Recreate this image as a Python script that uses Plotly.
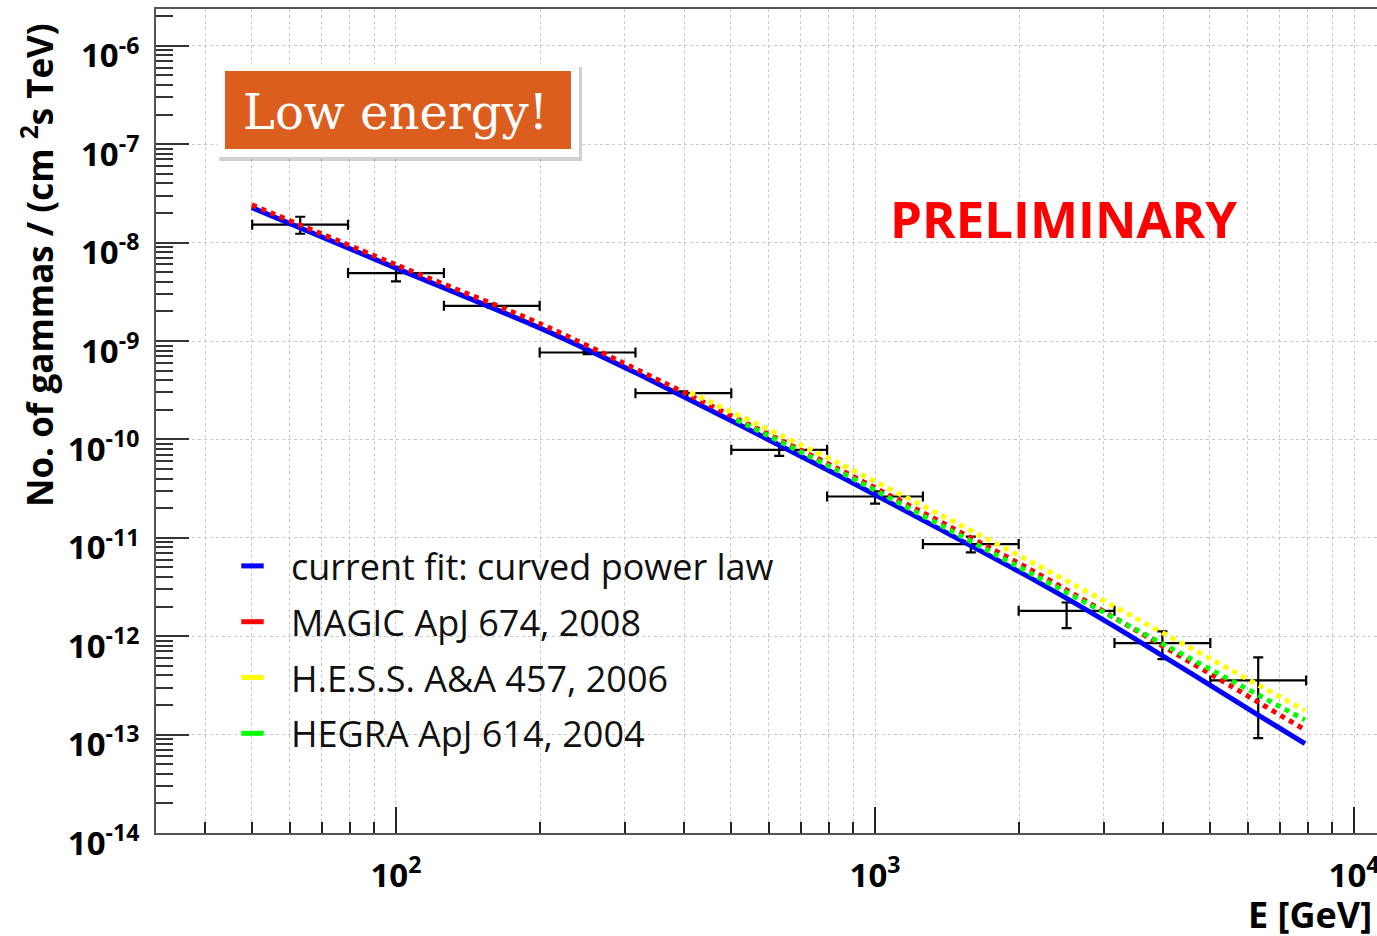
import plotly.graph_objects as go

# Measured flux points: bin centres, bin edges and flux with its 1-sigma bounds
energy = [63.1, 100.0, 158.5, 251.2, 398.1, 631.0, 1000.0, 1585.0, 2512.0, 3981.0, 6310.0]
bin_low = [50.1, 79.4, 125.9, 199.5, 316.2, 501.2, 794.3, 1259.0, 1995.0, 3162.0, 5012.0]
bin_high = [79.4, 125.9, 199.5, 316.2, 501.2, 794.3, 1259.0, 1995.0, 3162.0, 5012.0, 7943.0]
flux = [1.52e-8, 4.90e-9, 2.28e-9, 7.64e-10, 2.95e-10, 7.83e-11, 2.63e-11,
        8.63e-12, 1.81e-12, 8.51e-13, 3.55e-13]
flux_hi = [1.83e-8, 5.68e-9, 2.38e-9, 7.95e-10, 3.08e-10, 8.8e-11, 2.96e-11,
           1.03e-11, 2.20e-12, 1.12e-12, 6.08e-13]
flux_lo = [1.23e-8, 4.03e-9, 2.18e-9, 7.35e-10, 2.83e-10, 6.8e-11, 2.22e-11,
           7.1e-12, 1.21e-12, 5.85e-13, 9.2e-14]

# Spectral models, sampled along each curve
fit_E = [50, 100, 200, 323, 837, 2176, 3408, 6310, 7900]
fit_F = [2.27e-8, 5.51e-9, 1.352e-9, 4.53e-10, 4.32e-11, 3.61e-12, 1.01e-12, 1.58e-13, 8.1e-14]
magic_E = [50, 100, 200, 294, 837, 2176, 7900]
magic_F = [2.42e-8, 5.96e-9, 1.50e-9, 6.19e-10, 5.03e-11, 4.38e-12, 1.12e-13]
hess_E = [411, 837, 2176, 7900]
hess_F = [3.00e-10, 5.78e-11, 5.32e-12, 1.76e-13]
hegra_E = [514, 837, 2176, 7900]
hegra_F = [1.58e-10, 4.80e-11, 4.04e-12, 1.41e-13]

legend_names = ["current fit: curved power law", "MAGIC ApJ 674, 2008",
                "H.E.S.S. A&A 457, 2006", "HEGRA ApJ 614, 2004"]
colors = ["#0000ff", "#ff0000", "#ffff00", "#00ff00"]

x_major = [1e2, 1e3, 1e4]
x_major_text = ["10<sup>2</sup>", "10<sup>3</sup>", "10<sup>4</sup>"]
y_major = [10.0 ** k for k in range(-14, -5)]
y_major_text = ["10<sup>%d</sup>" % k for k in range(-14, -5)]

x_minor = [m * 10 ** k for k in range(1, 5) for m in range(2, 10)]
y_minor = [m * 10.0 ** k for k in range(-14, -5) for m in range(2, 10)]

W, H = 1377, 936
L, R, T, B = 156, 1377, 9, 833


def px(x):
    return (x - L) / (R - L)


def py(y):
    return (B - y) / (B - T)


fig = go.Figure()

# data points with bin-width and flux error bars
fig.add_trace(go.Scatter(
    x=energy, y=flux, mode="markers",
    marker=dict(size=2, color="black"),
    error_x=dict(type="data", symmetric=False,
                 array=[h - e for h, e in zip(bin_high, energy)],
                 arrayminus=[e - l for e, l in zip(energy, bin_low)],
                 color="black", thickness=2.2, width=5),
    error_y=dict(type="data", symmetric=False,
                 array=[h - f for h, f in zip(flux_hi, flux)],
                 arrayminus=[f - l for f, l in zip(flux, flux_lo)],
                 color="black", thickness=2.2, width=5),
    showlegend=False, hoverinfo="skip"))

curves = [(fit_E, fit_F, "solid"), (magic_E, magic_F, "5px,5px"),
          (hess_E, hess_F, "5px,5px"), (hegra_E, hegra_F, "5px,5px")]
for (xs, ys, dash), c in zip(curves, colors):
    fig.add_trace(go.Scatter(
        x=xs, y=ys, mode="lines",
        line=dict(color=c, width=5, dash=dash, shape="spline", smoothing=0.6),
        showlegend=False, hoverinfo="skip"))

# legend entries
for i, (name, c) in enumerate(zip(legend_names, colors)):
    fig.add_trace(go.Scatter(
        x=[None], y=[None], mode="markers", name=name, legendgroup="g%d" % i,
        marker=dict(symbol="line-ew", size=16, color=c, line=dict(color=c, width=6))))

grid = dict(gridcolor="#c8c8c8", griddash="dot", gridwidth=1)
tickfont = dict(family="Open Sans", size=33, color="black", weight="bold")

fig.update_layout(
    width=W, height=H,
    margin=dict(l=L, r=W - R, t=T, b=H - B),
    paper_bgcolor="white", plot_bgcolor="white",
    xaxis=dict(
        type="log", range=[1.499, 4.048], tickmode="array",
        tickvals=x_major, ticktext=x_major_text,
        ticks="inside", ticklen=26, tickwidth=1.5, tickcolor="#222",
        showline=True, linecolor="#555", linewidth=2, mirror=True,
        showgrid=True, **grid,
        minor=dict(tickmode="array", tickvals=x_minor, ticks="inside",
                   ticklen=11, tickwidth=1.5, tickcolor="#222",
                   showgrid=True, **grid),
        tickfont=tickfont, ticklabelstandoff=12, ticklabeloverflow="allow",
        automargin=False),
    yaxis=dict(
        type="log", range=[-14, -14 + (B - T) / 98.4], tickmode="array",
        tickvals=y_major, ticktext=y_major_text,
        ticks="inside", ticklen=33, tickwidth=1.5, tickcolor="#333",
        showline=True, linecolor="#555", linewidth=2, mirror=False,
        showgrid=True, **grid,
        minor=dict(tickmode="array", tickvals=y_minor, ticks="inside",
                   ticklen=17, tickwidth=1.5, tickcolor="#333", showgrid=False),
        tickfont=tickfont, ticklabelstandoff=8, ticklabelshift=10,
        ticklabeloverflow="allow", automargin=False),
    legend=dict(
        x=px(214), y=py(536), xanchor="left", yanchor="top",
        bgcolor="rgba(0,0,0,0)", borderwidth=0,
        font=dict(family="Open Sans", size=36, color="#111"),
        itemwidth=67, traceorder="grouped", tracegroupgap=6),
    shapes=[
        # legend panel
        dict(type="rect", xref="paper", yref="paper", layer="between",
             x0=px(233), x1=px(813), y0=py(767), y1=py(533),
             fillcolor="white", line=dict(width=0)),
        # label box: shadow, white frame, orange face
        dict(type="rect", xref="paper", yref="paper", layer="above",
             x0=px(219), x1=px(582), y0=py(161), y1=py(67),
             fillcolor="rgba(0,0,0,0.18)", line=dict(width=0)),
        dict(type="rect", xref="paper", yref="paper", layer="above",
             x0=px(217), x1=px(579), y0=py(157), y1=py(64),
             fillcolor="white", line=dict(width=0)),
        dict(type="rect", xref="paper", yref="paper", layer="above",
             x0=px(225), x1=px(571), y0=py(149), y1=py(71),
             fillcolor="#dc5e1f", line=dict(width=0)),
    ],
    annotations=[
        dict(text="Low energy!", xref="paper", yref="paper",
             x=px(395), y=py(112), xanchor="center", yanchor="middle",
             showarrow=False,
             font=dict(family="DejaVu Serif", size=48, color="white")),
        dict(text="PRELIMINARY", xref="paper", yref="paper",
             x=px(1063), y=py(218), xanchor="center", yanchor="middle",
             showarrow=False,
             font=dict(family="Open Sans", size=51, color="#ff0000", weight="bold")),
        dict(text="No. of gammas / (cm <sup>2</sup>s TeV)", xref="paper", yref="paper",
             x=px(37), y=py(265), xanchor="center", yanchor="middle",
             textangle=-90, showarrow=False,
             font=dict(family="Open Sans", size=35, color="black", weight="bold")),
        dict(text="E [GeV]", xref="paper", yref="paper",
             x=px(1374), y=py(941), xanchor="right", yanchor="bottom",
             showarrow=False,
             font=dict(family="Open Sans", size=36, color="black", weight="bold")),
    ],
)

fig.write_html("out.html")
